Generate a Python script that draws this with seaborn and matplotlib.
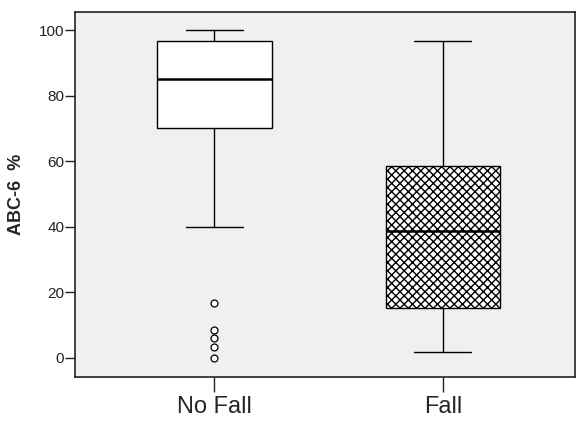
import numpy as np
import pandas as pd
import matplotlib
matplotlib.use("Agg")
import matplotlib.pyplot as plt
import seaborn as sns

# ---- data ----
categories = ["No Fall", "Fall"]
# five-number summaries: lower whisker, Q1, median, Q3, upper whisker
nofall_summary = [40.0, 70.2, 85.0, 96.7, 100.0]
fall_summary = [1.8, 15.2, 38.7, 58.4, 96.7]
nofall_outliers = [16.7, 8.5, 6.1, 3.3, 0.0]
y_ticks = [0, 20, 40, 60, 80, 100]
y_label = "ABC-6  %"

sns.set_style("ticks")
plt.rcParams["font.family"] = ["Liberation Sans", "DejaVu Sans"]
plt.rcParams["hatch.linewidth"] = 1.0

df = pd.DataFrame({
    "group": [categories[0]] * len(nofall_summary) + [categories[1]] * len(fall_summary),
    "value": nofall_summary + fall_summary,
})
out_df = pd.DataFrame({"group": [categories[0]] * len(nofall_outliers),
                       "value": nofall_outliers})

fig = plt.figure(figsize=(5.77, 4.21), dpi=100)
ax = fig.add_axes([75.3 / 577, 1 - 377 / 421, (575 - 75.3) / 577, (377 - 12) / 421])
ax.set_facecolor("#F0F0F0")

sns.boxplot(data=df, x="group", y="value", order=categories, whis=np.inf,
            width=0.5, color="white", linecolor="black", linewidth=1.0,
            fliersize=0, medianprops=dict(linewidth=1.8, color="black"), ax=ax)

# hatch the "Fall" box
boxes = [p for p in ax.patches]
if len(boxes) >= 2:
    boxes[1].set_hatch("xxxx")
    boxes[1].set_edgecolor("black")
    boxes[0].set_facecolor("white")
    boxes[1].set_facecolor("white")

sns.stripplot(data=out_df, x="group", y="value", order=categories, jitter=False,
              size=5, marker="o", linewidth=0.9, edgecolor="black", color="white",
              ax=ax, zorder=5)
ax.collections[-1].set_facecolor("none")
ax.collections[-1].set_edgecolor("black")

ax.set_xlim(-0.609, 1.578)
ax.set_ylim(-5.8, 105.5)
ax.set_yticks(y_ticks)
ax.set_yticklabels([str(t) for t in y_ticks], fontsize=11, color="#222222")
ax.tick_params(axis="y", length=7, width=1.0, pad=1, color="#222222")
ax.tick_params(axis="x", length=11, width=1.0, pad=3, labelsize=17, color="#222222")
ax.set_xlabel("")
ax.set_ylabel(y_label, fontsize=13, fontweight="bold", labelpad=10)

for s in ax.spines.values():
    s.set_visible(True)
    s.set_color("#222222")
    s.set_linewidth(1.2)

fig.savefig("out.png", dpi=100, facecolor="white")
